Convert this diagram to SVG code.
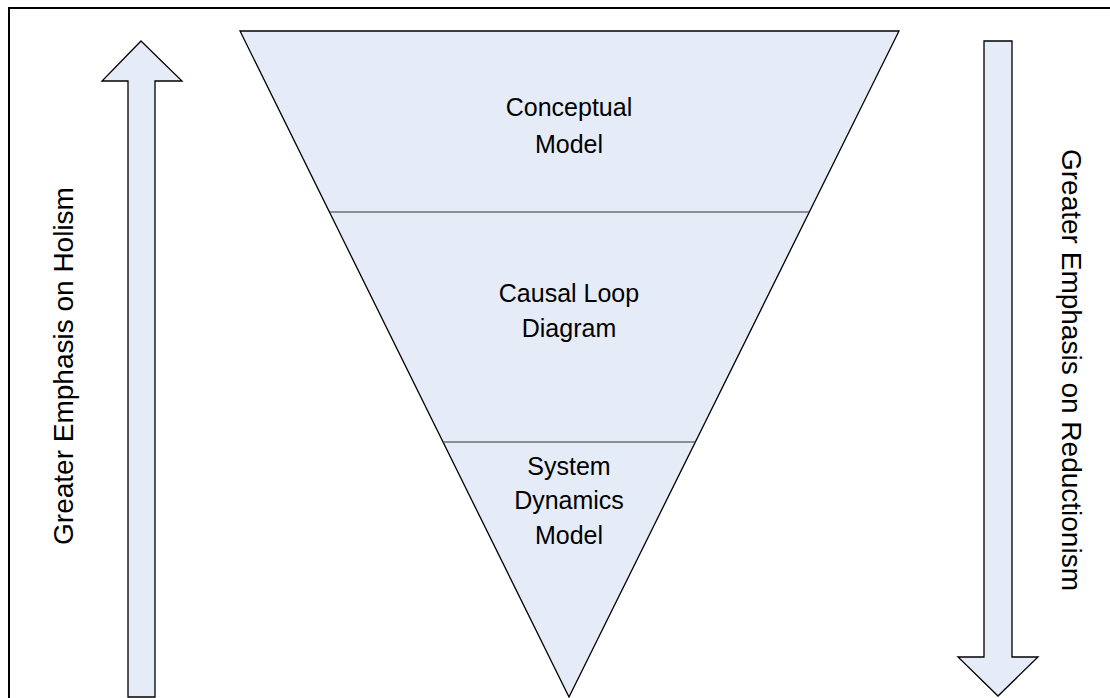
<svg xmlns="http://www.w3.org/2000/svg" width="1110" height="698" viewBox="0 0 1110 698">
<style>
.shape{fill:#e6ecf7;stroke:#000;stroke-width:1.3;stroke-linejoin:miter}
.div{stroke:#333;stroke-width:1;fill:none}
text{font-family:"Liberation Sans",Arial,sans-serif;font-size:25px;fill:#000;text-anchor:middle}
.side{font-size:28px}
</style>
<rect x="0" y="0" width="1110" height="698" fill="#fff"/>
<path d="M9,698 V8 H1110" fill="none" stroke="#000" stroke-width="2"/>
<g id="up-arrow">
<polygon class="shape" points="141,41 182,81 155,81 155,697 128,697 128,81 102,81"/>
</g>
<g id="down-arrow">
<polygon class="shape" points="984,41 1012,41 1012,657 1038,657 998,696 958,657 984,657"/>
</g>
<g id="pyramid">
<polygon class="shape" points="240,31 899,31 569,697"/>
</g>
<g id="connectors">
<line class="div" x1="330" y1="212" x2="809" y2="212"/>
<line class="div" x1="443" y1="442" x2="695" y2="442"/>
</g>
<g id="conceptual-model">
<text x="569" y="116">Conceptual</text>
<text x="569" y="153">Model</text>
</g>
<g id="causal-loop-diagram">
<text x="569" y="302">Causal Loop</text>
<text x="569" y="337">Diagram</text>
</g>
<g id="system-dynamics-model">
<text x="569" y="475">System</text>
<text x="569" y="509">Dynamics</text>
<text x="569" y="544">Model</text>
</g>
<g id="holism-label">
<text class="side" transform="translate(73,366) rotate(-90)">Greater Emphasis on Holism</text>
</g>
<g id="reductionism-label">
<text class="side" transform="translate(1062,370) rotate(90)">Greater Emphasis on Reductionism</text>
</g>
</svg>
